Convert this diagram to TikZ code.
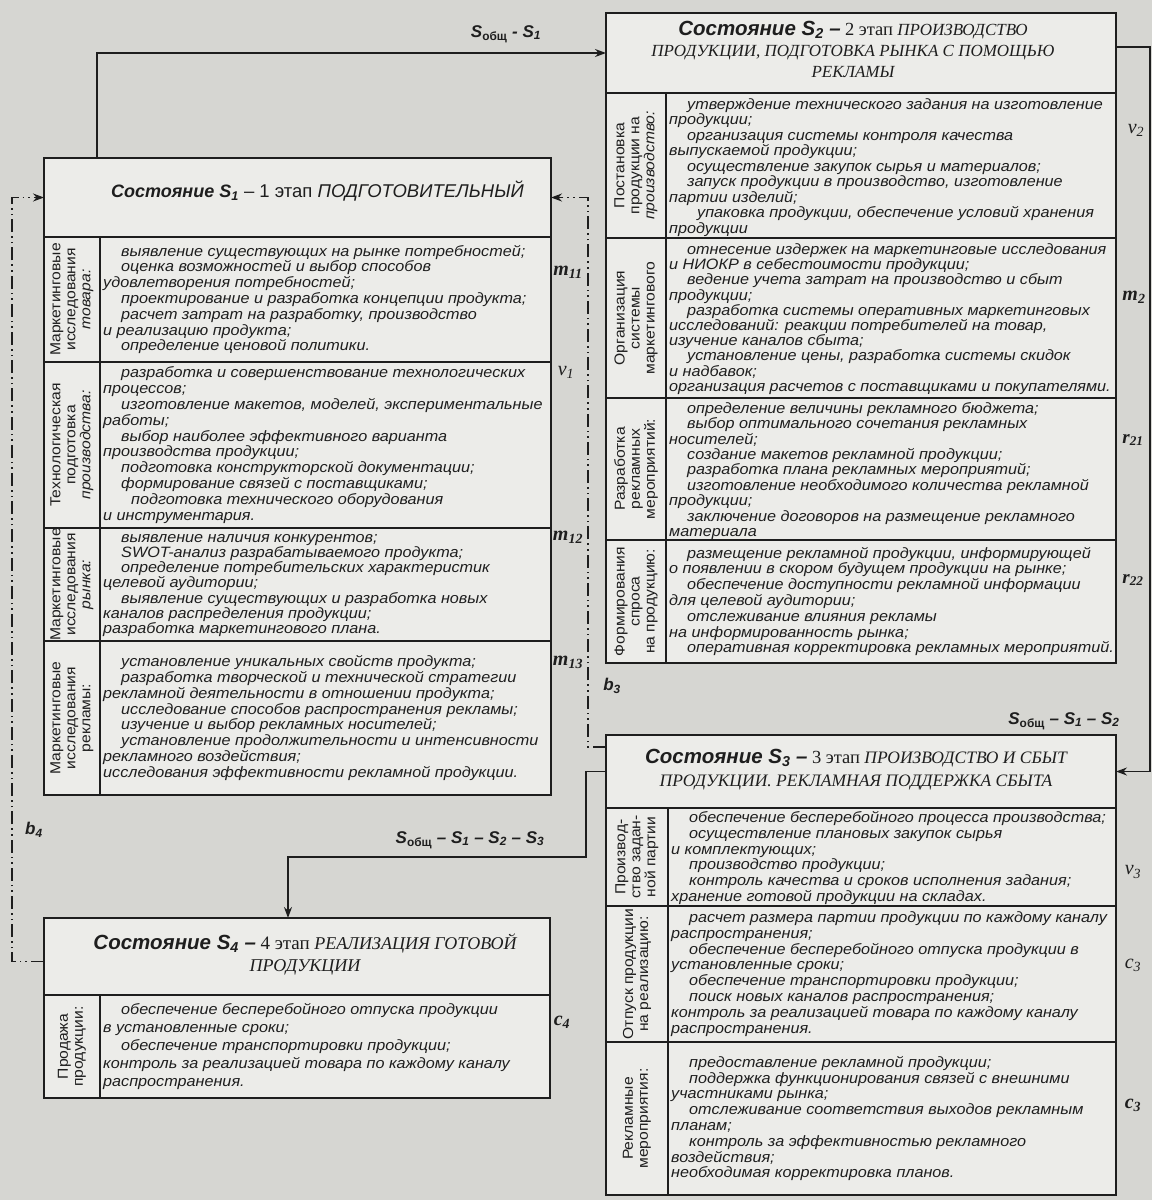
\documentclass[tikz,border=0pt]{standalone}
\usepackage{fontspec}
\setmainfont{Liberation Serif}
\setsansfont{Liberation Sans}
\newfontfamily\itf[FakeStretch=1.08]{Liberation Sans}
\usetikzlibrary{arrows.meta,calc}
\definecolor{paper}{RGB}{214,214,210}
\definecolor{boxbg}{RGB}{236,236,233}
\definecolor{ink}{RGB}{30,30,30}
\newcommand\ind{\hspace*{18pt}}
\newcommand\indd{\hspace*{28pt}}
\begin{document}
\begin{tikzpicture}[x=1pt,y=-1pt,
  cell/.style={draw=ink,line width=1.5pt,fill=boxbg,inner sep=0pt,outer sep=0pt,anchor=north west},
  ctext/.style={anchor=west,align=left,inner sep=0pt,text=ink,font=\itf\itshape\fontsize{15}{15.8}\selectfont},
  tight/.style={font=\itf\itshape\fontsize{15}{15.2}\selectfont},
  ltext/.style={rotate=90,align=center,inner sep=0pt,text=ink,font=\itf\fontsize{14.5}{15}\selectfont},
  htext/.style={align=center,inner sep=0pt,text=ink},
  rlab/.style={inner sep=0pt,text=ink,font=\rmfamily\itshape\fontsize{20}{20}\selectfont},
  mlab/.style={inner sep=0pt,text=ink,font=\rmfamily\bfseries\itshape\fontsize{20}{20}\selectfont},
  blab/.style={inner sep=0pt,text=ink,font=\sffamily\bfseries\itshape\fontsize{17}{17}\selectfont},
  flow/.style={draw=ink,line width=1.6pt,-{Stealth[length=11pt,width=8pt]}},
  dashflow/.style={draw=ink,line width=1.5pt,dash pattern=on 13pt off 4pt on 1.6pt off 4pt on 1.6pt off 4pt,-{Stealth[length=11pt,width=8pt]}}
]
\fill[paper] (0,0) rectangle (1152,1200);
\useasboundingbox (0,0) rectangle (1152,1200);

% ---------------- S1 ----------------
\node[cell,minimum width=507pt,minimum height=79pt] (S1h) at (44,158) {};
\node[cell,minimum width=56pt,minimum height=125pt] (S1al) at (44,237) {};
\node[cell,minimum width=451pt,minimum height=125pt] (S1a) at (100,237) {};
\node[cell,minimum width=56pt,minimum height=166pt] (S1bl) at (44,362) {};
\node[cell,minimum width=451pt,minimum height=166pt] (S1b) at (100,362) {};
\node[cell,minimum width=56pt,minimum height=113pt] (S1cl) at (44,528) {};
\node[cell,minimum width=451pt,minimum height=113pt] (S1c) at (100,528) {};
\node[cell,minimum width=56pt,minimum height=154pt] (S1dl) at (44,641) {};
\node[cell,minimum width=451pt,minimum height=154pt] (S1d) at (100,641) {};

\node[htext] (S1t) at ($(S1h.center)+(20,-6)$) {{\sffamily\bfseries\itshape\fontsize{18}{22}\selectfont Состояние S\textsubscript{1}}{\sffamily\fontsize{18.5}{22}\selectfont\ – 1 этап \textit{ПОДГОТОВИТЕЛЬНЫЙ}}};

\node[ltext] (S1alt) at (S1al.center) {Маркетинговые\\исследования\\\textit{товара:}};
\node[ltext] (S1blt) at (S1bl.center) {Технологическая\\подготовка\\\textit{производства:}};
\node[ltext] (S1clt) at (S1cl.center) {Маркетинговые\\исследования\\\textit{рынка:}};
\node[ltext] (S1dlt) at (S1dl.center) {Маркетинговые\\исследования\\рекламы:};

\node[ctext] (S1at) at ($(S1a.west)+(3,0)$) {\ind выявление существующих на рынке потребностей;\\
\ind оценка возможностей и выбор способов\\
удовлетворения потребностей;\\
\ind проектирование и разработка концепции продукта;\\
\ind расчет затрат на разработку, производство\\
и реализацию продукта;\\
\ind определение ценовой политики.};
\node[ctext] (S1bt) at ($(S1b.west)+(3,0)$) {\ind разработка и совершенствование технологических\\
процессов;\\
\ind изготовление макетов, моделей, экспериментальные\\
работы;\\
\ind выбор наиболее эффективного варианта\\
производства продукции;\\
\ind подготовка конструкторской документации;\\
\ind формирование связей с поставщиками;\\
\indd подготовка технического оборудования\\
и инструментария.};
\node[ctext,tight] (S1ct) at ($(S1c.west)+(3,1)$) {\ind выявление наличия конкурентов;\\
\ind SWOT-анализ разрабатываемого продукта;\\
\ind определение потребительских характеристик\\
целевой аудитории;\\
\ind выявление существующих и разработка новых\\
каналов распределения продукции;\\
разработка маркетингового плана.};
\node[ctext] (S1dt) at ($(S1d.west)+(3,0)$) {\ind установление уникальных свойств продукта;\\
\ind разработка творческой и технической стратегии\\
рекламной деятельности в отношении продукта;\\
\ind исследование способов распространения рекламы;\\
\ind изучение и выбор рекламных носителей;\\
\ind установление продолжительности и интенсивности\\
рекламного воздействия;\\
исследования эффективности рекламной продукции.};

\node[mlab] (m11) at (568,272) {m\textsubscript{11}};
\node[rlab] (v1) at (566,372) {v\textsubscript{1}};
\node[mlab] (m12) at (568,537) {m\textsubscript{12}};
\node[mlab] (m13) at (568,662) {m\textsubscript{13}};

% ---------------- S2 ----------------
\node[cell,minimum width=510pt,minimum height=80pt] (S2h) at (606,13) {};
\node[cell,minimum width=60pt,minimum height=145pt] (S2al) at (606,93) {};
\node[cell,minimum width=450pt,minimum height=145pt] (S2a) at (666,93) {};
\node[cell,minimum width=60pt,minimum height=160pt] (S2bl) at (606,238) {};
\node[cell,minimum width=450pt,minimum height=160pt] (S2b) at (666,238) {};
\node[cell,minimum width=60pt,minimum height=142pt] (S2cl) at (606,398) {};
\node[cell,minimum width=450pt,minimum height=142pt] (S2c) at (666,398) {};
\node[cell,minimum width=60pt,minimum height=123pt] (S2dl) at (606,540) {};
\node[cell,minimum width=450pt,minimum height=123pt] (S2d) at (666,540) {};

\node[htext,font=\rmfamily\itshape\fontsize{17}{21}\selectfont] (S2t) at ($(S2h.center)+(-8,-4)$) {{\upshape{\sffamily\bfseries\itshape\fontsize{20.5}{21}\selectfont Состояние S\textsubscript{2} –} {\fontsize{18.5}{21}\selectfont 2 этап}} ПРОИЗВОДСТВО\\ПРОДУКЦИИ, ПОДГОТОВКА РЫНКА С ПОМОЩЬЮ\\РЕКЛАМЫ};

\node[ltext] (S2alt) at (S2al.center) {Постановка\\продукции на\\\textit{производство:}};
\node[ltext] (S2blt) at (S2bl.center) {Организация\\системы\\маркетингового};
\node[ltext] (S2clt) at (S2cl.center) {Разработка\\рекламных\\мероприятий:};
\node[ltext] (S2dlt) at (S2dl.center) {Формирования\\спроса\\на продукцию:};

\node[ctext,font=\itf\itshape\fontsize{15}{15.5}\selectfont] (S2at) at ($(S2a.west)+(3,2)$) {\ind утверждение технического задания на изготовление\\
продукции;\\
\ind организация системы контроля качества\\
выпускаемой продукции;\\
\ind осуществление закупок сырья и материалов;\\
\ind запуск продукции в производство, изготовление\\
партии изделий;\\
\indd упаковка продукции, обеспечение условий хранения\\
продукции};
\node[ctext,tight] (S2bt) at ($(S2b.west)+(3,1)$) {\ind отнесение издержек на маркетинговые исследования\\
и НИОКР в себестоимости продукции;\\
\ind ведение учета затрат на производство и сбыт\\
продукции;\\
\ind разработка системы оперативных маркетинговых\\
исследований: реакции потребителей на товар,\\
изучение каналов сбыта;\\
\ind установление цены, разработка системы скидок\\
и надбавок;\\
организация расчетов с поставщиками и покупателями.};
\node[ctext,font=\itf\itshape\fontsize{15}{15.4}\selectfont] (S2ct) at ($(S2c.west)+(3,2)$) {\ind определение величины рекламного бюджета;\\
\ind выбор оптимального сочетания рекламных\\
носителей;\\
\ind создание макетов рекламной продукции;\\
\ind разработка плана рекламных мероприятий;\\
\ind изготовление необходимого количества рекламной\\
продукции;\\
\ind заключение договоров на размещение рекламного\\
материала};
\node[ctext] (S2dt) at ($(S2d.west)+(3,0)$) {\ind размещение рекламной продукции, информирующей\\
о появлении в скором будущем продукции на рынке;\\
\ind обеспечение доступности рекламной информации\\
для целевой аудитории;\\
\ind отслеживание влияния рекламы\\
на информированность рынка;\\
\ind оперативная корректировка рекламных мероприятий.};

\node[rlab] (v2) at (1136,130) {v\textsubscript{2}};
\node[mlab] (m2) at (1134,297) {m\textsubscript{2}};
\node[mlab,font=\rmfamily\bfseries\itshape\fontsize{19}{20}\selectfont] (r21) at (1133,440) {r\textsubscript{21}};
\node[mlab,font=\rmfamily\bfseries\itshape\fontsize{19}{20}\selectfont] (r22) at (1133,580) {r\textsubscript{22}};

% ---------------- S3 ----------------
\node[cell,minimum width=510pt,minimum height=73pt] (S3h) at (606,735) {};
\node[cell,minimum width=62pt,minimum height=98pt] (S3al) at (606,808) {};
\node[cell,minimum width=448pt,minimum height=98pt] (S3a) at (668,808) {};
\node[cell,minimum width=62pt,minimum height=136pt] (S3bl) at (606,906) {};
\node[cell,minimum width=448pt,minimum height=136pt] (S3b) at (668,906) {};
\node[cell,minimum width=62pt,minimum height=153pt] (S3cl) at (606,1042) {};
\node[cell,minimum width=448pt,minimum height=153pt] (S3c) at (668,1042) {};

\node[htext,font=\rmfamily\itshape\fontsize{17.5}{23}\selectfont] (S3t) at ($(S3h.center)+(-5,-2)$) {{\upshape{\sffamily\bfseries\itshape\fontsize{20.5}{21}\selectfont Состояние S\textsubscript{3} –} {\fontsize{18.5}{21}\selectfont 3 этап}} ПРОИЗВОДСТВО И СБЫТ\\ПРОДУКЦИИ. РЕКЛАМНАЯ ПОДДЕРЖКА СБЫТА};

\node[ltext] (S3alt) at (S3al.center) {Производ-\\ство задан-\\ной партии};
\node[ltext] (S3blt) at (S3bl.center) {Отпуск продукции\\на реализацию:};
\node[ltext] (S3clt) at (S3cl.center) {Рекламные\\мероприятия:};

\node[ctext] (S3at) at ($(S3a.west)+(3,1)$) {\ind обеспечение бесперебойного процесса производства;\\
\ind осуществление плановых закупок сырья\\
и комплектующих;\\
\ind производство продукции;\\
\ind контроль качества и сроков исполнения задания;\\
хранение готовой продукции на складах.};
\node[ctext] (S3bt) at ($(S3b.west)+(3,0)$) {\ind расчет размера партии продукции по каждому каналу\\
распространения;\\
\ind обеспечение бесперебойного отпуска продукции в\\
установленные сроки;\\
\ind обеспечение транспортировки продукции;\\
\ind поиск новых каналов распространения;\\
контроль за реализацией товара по каждому каналу\\
распространения.};
\node[ctext] (S3ct) at ($(S3c.west)+(3,0)$) {\ind предоставление рекламной продукции;\\
\ind поддержка функционирования связей с внешними\\
участниками рынка;\\
\ind отслеживание соответствия выходов рекламным\\
планам;\\
\ind контроль за эффективностью рекламного\\
воздействия;\\
необходимая корректировка планов.};

\node[rlab] (v3) at (1133,872) {v\textsubscript{3}};
\node[rlab] (c3a) at (1133,965) {c\textsubscript{3}};
\node[mlab] (c3b) at (1133,1105) {c\textsubscript{3}};

% ---------------- S4 ----------------
\node[cell,minimum width=506pt,minimum height=77pt] (S4h) at (44,918) {};
\node[cell,minimum width=56pt,minimum height=103pt] (S4al) at (44,995) {};
\node[cell,minimum width=450pt,minimum height=103pt] (S4a) at (100,995) {};

\node[htext,font=\rmfamily\itshape\fontsize{18}{22}\selectfont] (S4t) at ($(S4h.center)+(8,-2)$) {{\upshape{\sffamily\bfseries\itshape\fontsize{20.5}{21}\selectfont Состояние S\textsubscript{4} –} {\fontsize{19}{21}\selectfont 4 этап}} РЕАЛИЗАЦИЯ ГОТОВОЙ\\ПРОДУКЦИИ};

\node[ltext] (S4alt) at (S4al.center) {Продажа\\продукции:};
\node[ctext,font=\itf\itshape\fontsize{15}{18}\selectfont] (S4at) at ($(S4a.west)+(3,0)$) {\ind обеспечение бесперебойного отпуска продукции\\
в установленные сроки;\\
\ind обеспечение транспортировки продукции;\\
контроль за реализацией товара по каждому каналу\\
распространения.};
\node[mlab] (c4) at (562,1022) {c\textsubscript{4}};

% ---------------- connectors ----------------
\coordinate (S1top) at ($(S1h.north west)+(53,0)$);
\draw[flow] (S1top) |- (S2h.west);
\node[blab] (l12) at (506,34) {S\textsubscript{\upshape общ} - S\textsubscript{1}};

\coordinate (S2out) at ($(S2h.north east)+(0,34)$);
\coordinate (Ex) at (1150,0);
\draw[flow] (S2out) -- (S2out -| Ex) |- (S3h.east);
\node[blab] (l23) at (1064,721) {S\textsubscript{\upshape общ} – S\textsubscript{1} – S\textsubscript{2}};

\coordinate (Mx) at (586,857);
\coordinate (S4in) at ($(S4h.north west)+(244,0)$);
\draw[flow] (S3h.west) -| (Mx) -| (S4in);
\node[blab] (l34) at (470,840) {S\textsubscript{\upshape общ} – S\textsubscript{1} – S\textsubscript{2} – S\textsubscript{3}};

\coordinate (Lx) at (12,0);
\coordinate (S4back) at ($(S4h.west)+(0,5)$);
\draw[dashflow] (S4back) -- (S4back -| Lx) |- (S1h.west);
\node[blab] (b4) at (34,830) {b\textsubscript{4}};

\coordinate (Rx) at (588,0);
\coordinate (S3back) at ($(S3h.north west)+(0,12)$);
\draw[dashflow] (S3back) -- (S3back -| Rx) |- (S1h.east);
\node[blab] (b3) at (612,686) {b\textsubscript{3}};
\end{tikzpicture}
\end{document}
